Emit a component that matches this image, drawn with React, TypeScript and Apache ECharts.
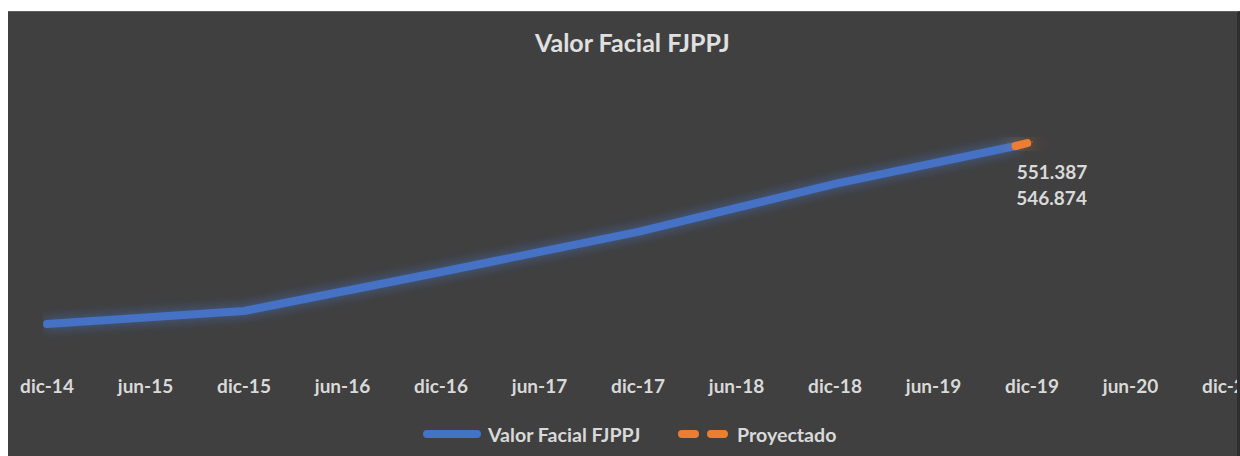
import React, { useEffect, useRef } from "react";
import * as echarts from "echarts";

// Tick labels every 6 months, starting dic-14 (month index 0)
const xTickLabels = [
  "dic-14", "jun-15", "dic-15", "jun-16", "dic-16", "jun-17", "dic-17",
  "jun-18", "dic-18", "jun-19", "dic-19", "jun-20", "dic-20",
];

// Actual values (month index from dic-14, value)
const actualMonths = [0, 12, 24, 36, 48, 59];
const actualValues = [350.7, 365.0, 408.0, 452.2, 505.1, 546.874];

// Projected values
const projMonths = [59, 60];
const projValues = [546.874, 551.387];

const seriesNames = ["Valor Facial FJPPJ", "Proyectado"];

const FONT = 'Lato, "Open Sans", sans-serif';
const TEXT = "#d9d9d9";
const BLUE = "#4472C4";
const ORANGE = "#ED7D31";

export default function App() {
  const ref = useRef<HTMLDivElement>(null);

  useEffect(() => {
    if (!ref.current) return;
    const chart = echarts.init(ref.current, undefined, { renderer: "svg" });

    const fmt = (p: any) => Number(p.value[1]).toFixed(3);

    const actualData = actualMonths.map((m, i) => {
      const last = i === actualMonths.length - 1;
      return last
        ? {
            value: [m, actualValues[i]],
            label: {
              show: true,
              position: "bottom",
              distance: 5,
              offset: [36, 36],
              formatter: fmt,
            },
          }
        : { value: [m, actualValues[i]] };
    });

    const projData = projMonths.map((m, i) => {
      const last = i === projMonths.length - 1;
      return last
        ? {
            value: [m, projValues[i]],
            label: {
              show: true,
              position: "bottom",
              distance: 5,
              offset: [20, 15],
              formatter: fmt,
            },
          }
        : { value: [m, projValues[i]] };
    });

    const labelStyle = {
      color: TEXT,
      fontFamily: FONT,
      fontWeight: "bold" as const,
      fontSize: 19,
    };

    chart.setOption({
      animation: false,
      backgroundColor: "transparent",
      title: {
        text: "Valor Facial FJPPJ",
        left: 527,
        top: 17,
        padding: 0,
        textStyle: {
          color: "#e0e0e0",
          fontFamily: FONT,
          fontWeight: "bold",
          fontSize: 25,
        },
      },
      legend: [
        {
          data: [
            {
              name: seriesNames[0],
              icon: "path://M4,0H54A4,4 0 0 1 54,8H4A4,4 0 0 1 4,0Z",
              itemStyle: { color: BLUE, borderWidth: 0 },
            },
          ],
          left: 415,
          top: 412,
          padding: 0,
          itemWidth: 58,
          itemHeight: 8,
          selectedMode: false,
          textStyle: { ...labelStyle, fontSize: 19.6, padding: [0, 0, 0, 2] },
        },
        {
          data: [
            {
              name: seriesNames[1],
              icon:
                "path://M4,0H17A4,4 0 0 1 17,8H4A4,4 0 0 1 4,0Z M33,0H46A4,4 0 0 1 46,8H33A4,4 0 0 1 33,0Z",
              itemStyle: { color: ORANGE, borderWidth: 0 },
            },
          ],
          left: 670,
          top: 412,
          padding: 0,
          itemWidth: 50,
          itemHeight: 8,
          selectedMode: false,
          textStyle: { ...labelStyle, fontSize: 19.6, padding: [0, 0, 0, 4] },
        },
      ],
      grid: {
        left: 39,
        right: 8,
        top: 85.8,
        bottom: 86,
        containLabel: false,
        outerBoundsMode: "none",
      },
      xAxis: {
        type: "value",
        min: 0,
        max: 72,
        interval: 6,
        axisLine: { show: false },
        axisTick: { show: false },
        splitLine: { show: false },
        axisLabel: {
          ...labelStyle,
          fontSize: 19,
          margin: 6,
          showMinLabel: true,
          showMaxLabel: true,
          formatter: (v: number) => xTickLabels[Math.round(v / 6)] ?? "",
        },
      },
      yAxis: {
        type: "value",
        min: 300,
        max: 600,
        show: false,
        splitLine: { show: false },
      },
      series: [
        {
          name: seriesNames[0],
          type: "line",
          data: actualData,
          symbol: "circle",
          symbolSize: 1,
          showSymbol: true,
          itemStyle: { color: BLUE },
          lineStyle: {
            color: BLUE,
            width: 8,
            cap: "round",
            join: "round",
            shadowBlur: 12,
            shadowColor: "rgba(68,114,196,0.7)",
          },
          label: labelStyle,
          z: 2,
        },
        {
          name: seriesNames[1],
          type: "line",
          data: projData,
          symbol: "circle",
          symbolSize: 1,
          showSymbol: true,
          itemStyle: { color: ORANGE },
          lineStyle: {
            color: ORANGE,
            width: 8,
            type: [12, 9],
            cap: "round",
            join: "round",
            shadowBlur: 20,
            shadowColor: "rgba(237,125,49,0.7)",
          },
          label: labelStyle,
          z: 3,
        },
      ],
    });

    return () => chart.dispose();
  }, []);

  return (
    <div
      style={{
        position: "absolute",
        left: 8,
        top: 11,
        width: 1229,
        height: 445,
        background: "#404040",
        borderTop: "1px solid #5e5e5e",
        borderRight: "3px solid #2e2e2e",
        boxSizing: "content-box",
      }}
    >
      <div ref={ref} style={{ width: 1229, height: 444 }} />
    </div>
  );
}
